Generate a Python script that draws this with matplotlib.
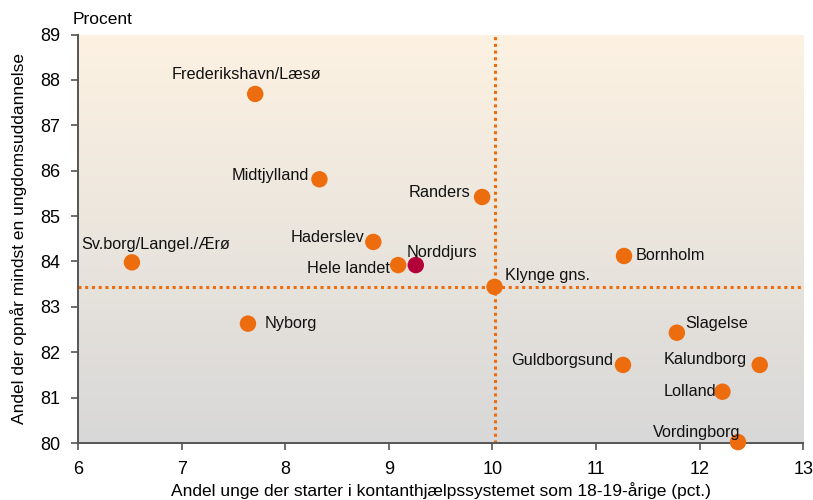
import numpy as np
import matplotlib
matplotlib.use("Agg")
from matplotlib import pyplot as plt
from matplotlib.colors import LinearSegmentedColormap

plt.rcParams['font.family'] = ['Liberation Sans', 'DejaVu Sans']

# data
names = ["Frederikshavn/Læsø", "Midtjylland", "Randers", "Haderslev", "Hele landet",
         "Norddjurs", "Sv.borg/Langel./Ærø", "Klynge gns.", "Bornholm", "Nyborg",
         "Slagelse", "Guldborgsund", "Kalundborg", "Lolland", "Vordingborg"]
x_vals = [7.71, 8.33, 9.90, 8.85, 9.09, 9.26, 6.52, 10.02, 11.27, 7.64,
          11.78, 11.26, 12.58, 12.22, 12.37]
y_vals = [87.69, 85.81, 85.42, 84.43, 83.92, 83.92, 83.98, 83.44, 84.12, 82.63,
          82.43, 81.72, 81.72, 81.13, 80.02]
highlight = "Norddjurs"
avg_x = 10.02
avg_y = 83.44

# label placement (pixel offsets, alignment)
label_pos = {
    "Frederikshavn/Læsø": (-9, 12, "center", "bottom"),
    "Midtjylland": (-10, 4, "right", "center"),
    "Randers": (-12, 4, "right", "center"),
    "Haderslev": (-9, 4, "right", "center"),
    "Hele landet": (-8, -3, "right", "center"),
    "Norddjurs": (-9, 13, "left", "center"),
    "Sv.borg/Langel./Ærø": (24, 10, "center", "bottom"),
    "Klynge gns.": (10, 11, "left", "center"),
    "Bornholm": (12, 0, "left", "center"),
    "Nyborg": (17, 0, "left", "center"),
    "Slagelse": (8, 9, "left", "center"),
    "Guldborgsund": (-10, 4, "right", "center"),
    "Kalundborg": (-13, 5, "right", "center"),
    "Lolland": (-6, 0, "right", "center"),
    "Vordingborg": (2, 10, "right", "center"),
}

orange = "#ec6c0e"
red = "#b4003a"

fig = plt.figure(figsize=(8.13, 5.0), dpi=100)
ax = fig.add_axes([0.096, 0.114, 0.892, 0.817])

# background gradient
cmap = LinearSegmentedColormap.from_list("bg", ["#d8d8d8", "#fdf2e2"])
grad = np.linspace(0, 1, 256).reshape(-1, 1)
ax.imshow(grad, aspect="auto", cmap=cmap, origin="lower",
          extent=[6, 13, 80, 89], zorder=0)

ax.axvline(avg_x, color=orange, linestyle=(0, (1, 1.2)), linewidth=2.2, zorder=1)
ax.axhline(avg_y, color=orange, linestyle=(0, (1, 1.2)), linewidth=2.2, zorder=1)

colors = [red if n == highlight else orange for n in names]
ax.scatter(x_vals, y_vals, s=140, c=colors, zorder=3, clip_on=False, linewidths=0)

for n, xv, yv in zip(names, x_vals, y_vals):
    dx, dy, ha, va = label_pos[n]
    ax.annotate(n, (xv, yv), xytext=(dx, dy), textcoords="offset pixels",
                ha=ha, va=va, fontsize=11.7, color="#111111", zorder=4)

ax.set_xlim(6, 13)
ax.set_ylim(80, 89)
ax.set_xticks(range(6, 14))
ax.set_yticks(range(80, 90))
ax.tick_params(labelsize=13, length=5, width=1.2, color="#555555", pad=8)
for s in ["top", "right"]:
    ax.spines[s].set_visible(False)
for s in ["bottom", "left"]:
    ax.spines[s].set_color("#555555")
    ax.spines[s].set_linewidth(1.4)

ax.set_xlabel("Andel unge der starter i kontanthjælpssystemet som 18-19-årige (pct.)",
              fontsize=12.5, labelpad=3)
ax.set_ylabel("Andel der opnår mindst en ungdomsuddannelse", fontsize=12.5, labelpad=9)
fig.text(0.126, 0.962, "Procent", fontsize=12.5, ha="center", va="center")

fig.savefig("out.png", dpi=100)
